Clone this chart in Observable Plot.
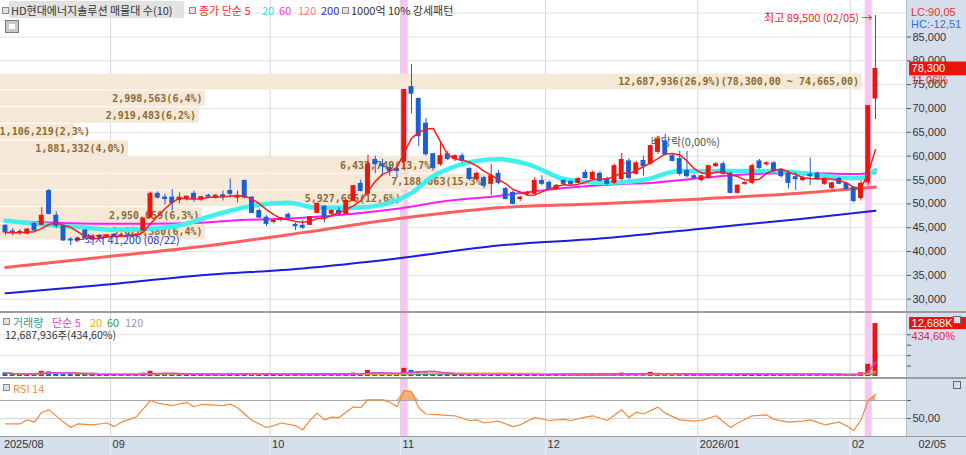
<!DOCTYPE html>
<html><head><meta charset="utf-8">
<script src="https://cdn.jsdelivr.net/npm/d3@7"></script>
<script src="https://cdn.jsdelivr.net/npm/@observablehq/plot@0.6"></script>
<style>
html,body{margin:0;padding:0;background:#fff;}
#wrap{position:relative;width:966px;height:455px;overflow:hidden;background:#fff;}
.a{position:absolute;white-space:nowrap;}
.k{font-family:"Noto Sans CJK KR","Noto Sans",sans-serif;font-size:11px;line-height:16px;}
.n{font-family:"Liberation Sans",sans-serif;font-size:11px;line-height:12px;}
.sq{position:absolute;width:5px;height:5px;border:1px solid #8a8a8a;background:#e2e2e2;}
svg{overflow:visible;max-width:none !important;}
</style></head>
<body><div id="wrap">
 <div class="a" style="left:906px;top:0;width:60px;height:437px;background:#d5dfeb;border-left:1px solid #b3bdca"></div>
 <div class="a" style="left:0;top:437px;width:966px;height:18px;background:#d5dfeb"></div>
 <div id="p1" class="a" style="left:0;top:0;width:966px;height:311px"></div>
 <div id="p2" class="a" style="left:0;top:313px;width:966px;height:64px"></div>
 <div id="p3" class="a" style="left:0;top:379px;width:966px;height:76px"></div>
 <div class="a" style="left:0;top:311px;width:966px;height:2px;background:#9c9c9c"></div>
 <div class="a" style="left:0;top:377px;width:966px;height:2px;background:#9c9c9c"></div>
 <div class="a" style="left:0;top:436px;width:966px;height:1px;background:#9c9c9c"></div>
</div>
<script>
// ---------- data ----------
const monthIdx   = [0, 15, 37, 55, 75, 96, 117];
const monthLabel = ["2025/08", "09", "10", "11", "12", "2026/01", "02"];
const lastDateLabel = "02/05";
const highDate = "02/05", lowDate = "08/22";
const signalIdx = [55, 119]; // 1000억 10% 강세패턴

const openP = [45400,44200,44100,43750,45800,45600,52700,47500,45200,42500,42300,44400,42700,43000,43100,
 43500,43200,43400,43300,44400,47100,52100,51300,51300,50800,51000,52100,50900,51700,51300,51800,52700,51300,54800,51300,48500,
 47100,46200,46600,47700,45600,45400,45600,48100,49400,47900,48500,47900,50600,54200,52100,59200,58300,57500,57300,
 58900,74500,72000,66800,60400,58300,60400,59400,60000,57300,55200,55400,54200,56300,53100,52300,51000,52100,52100,54800,
 54400,53100,54800,54600,54400,56500,55200,56300,55200,54400,55200,58900,56300,59000,58500,60900,63100,60000,59400,56900,55800,
 55000,55400,57900,58300,56300,52300,54200,54400,58900,58300,58500,56900,56300,55600,55000,56100,56300,54200,53300,55200,54200,
 53300,51200,54500,72100];
const highP = [45600,44800,44600,44800,46000,49200,53000,48300,45500,42900,43000,44600,43300,43500,43600,
 43700,43600,43800,43700,47000,52500,52500,52000,53000,52300,51600,52700,51500,52000,51900,52700,55200,52700,55000,51500,48900,
 47500,46500,47100,48100,46000,46500,47300,50200,49600,48700,49200,50800,53900,55000,60200,60000,59400,58500,57900,
 74000,79200,72200,67900,60600,63100,61000,60300,60600,57600,56700,55800,58300,57000,53500,52700,51600,52600,55500,55900,
 54800,54000,55100,54900,55500,57100,56900,56800,55600,58300,60600,59500,58900,60000,62300,64200,64600,60400,61000,61000,56200,
 56000,58100,58700,58800,56600,54000,54600,58300,59300,58800,58900,57300,56900,56500,55800,59600,56700,55400,54600,55500,54500,
 53600,54800,70500,89500];
const lowP = [43300,43300,43400,43500,44200,45400,47700,44800,42200,41200,42000,42600,42500,42800,42900,
 43000,42900,43000,43000,44000,46900,51000,49800,48500,50000,50600,50300,50500,51200,51000,50600,51200,50200,51000,47900,46900,
 45200,45800,46200,46500,44400,44600,45400,47900,46000,47500,47500,47700,50400,52500,51900,56300,55800,55800,55400,
 56900,68900,62000,60000,57300,57900,59100,58900,58500,54800,54900,53100,51700,54000,50800,49800,50500,51700,51800,53800,
 52900,52800,53900,53900,54100,55200,54900,54600,53900,54100,54800,55000,56000,55800,58100,60400,60000,58800,55800,55400,55200,
 54600,55200,57600,56000,52100,52000,53900,54000,57300,57900,56500,55400,53100,52800,54600,53800,55000,53900,53000,54000,52900,
 50200,50600,53800,67700];
const closeP = [44000,43900,43900,44600,44400,47500,47900,45400,42300,42300,42700,42700,43100,43300,43400,
 43200,43400,43300,43500,46900,52100,51300,51000,50200,51300,51500,51000,51400,51500,51700,51500,52100,51700,51300,48100,47100,
 45800,46400,47000,47100,45300,45000,47200,50000,47100,48500,47900,50600,53700,52700,58300,58300,57900,56900,56900,
 73900,73100,64200,60400,57500,60000,59400,60000,59000,55200,56300,53800,55800,54400,51000,50000,51300,52300,54800,54200,
 53100,53800,54200,54100,55200,55400,56500,54800,54200,57900,59200,55400,58500,57900,62100,63500,60400,59000,56300,55800,55400,
 55800,57900,58300,56300,52300,53800,54400,57900,57500,58500,56900,55800,54400,55200,55400,55800,55200,55100,54300,54200,53100,
 50600,54200,70500,78300];
const volume = [850000,600000,500000,550000,700000,1250000,1100000,800000,750000,600000,500000,550000,450000,400000,450000,
 400000,380000,420000,450000,800000,1250000,700000,550000,650000,500000,420000,480000,400000,380000,360000,450000,750000,500000,600000,650000,500000,
 550000,400000,380000,420000,500000,450000,520000,700000,600000,420000,400000,550000,800000,700000,1450000,950000,650000,500000,450000,
 1950000,1450000,1200000,900000,700000,750000,550000,450000,450000,600000,500000,500000,650000,450000,550000,550000,380000,350000,500000,400000,
 380000,330000,350000,300000,350000,380000,400000,350000,330000,550000,800000,550000,450000,500000,1000000,750000,600000,400000,500000,550000,350000,
 380000,500000,400000,420000,700000,450000,330000,700000,500000,380000,400000,380000,500000,420000,330000,700000,400000,380000,400000,350000,380000,
 500000,900000,2919450,12687936];

// moving averages (index, value)
const ma20Idx = [0,4,11,15,20,25,28,31,34,39,43,48,53,56,59,61,63,68,72,77,80,83,88,93,97,102,106,111,116,118,120];
const ma20Val = [46460,45830,45000,44580,44790,45830,47290,48540,49580,50210,49170,49170,50210,52290,55830,57290,58330,59380,58330,55210,54580,54380,55000,56880,56880,56880,56880,56250,55420,55420,57080];
const ma60Idx = [0,13,20,27,31,41,48,54,61,68,77,85,89,96,103,110,117,120];
const ma60Val = [46460,45830,45830,46040,46460,47080,47920,48960,50630,51670,53330,54170,54380,55420,56250,56460,56250,56460];
const ma120Idx = [0,13,27,41,54,61,68,82,96,110,120];
const ma120Val = [36670,38750,41040,43960,46880,48130,49170,50000,51040,52290,53540];
const ma200Idx = [0,13,27,41,54,68,82,96,110,120];
const ma200Val = [31250,32920,35000,36460,38540,41250,42710,44790,46880,48540];

// 매물대 (volume profile), top to bottom
const bandVol  = [12687936,2998563,2919483,1106219,1881332,6432749,7188063,5927696,2950059,3026380];
const bandPct  = [26.9,6.4,6.2,2.3,4.0,13.7,15.3,12.6,6.3,6.4];
const bandHigh = [77300,73800,70300,66800,63300,59800,56300,52800,49300,45800];
const bandLow  = [73800,70300,66800,63300,59800,56300,52800,49300,45800,42300];
const bandExtra = ["(78,300,00 ~ 74,665,00)","","","","","","","","",""];

// RSI 14
const rsiIdx = [0,2,3,4,5,6,8,9,10,12,14,15,16,18,19,20,21,23,25,26,27,30,31,32,34,36,37,38,40,41,42,43,44,45,46,48,49,50,52,53,54,55,56,57,58,60,62,64,65,66,68,70,71,73,75,77,78,80,81,83,85,86,87,88,90,91,93,95,96,98,100,101,103,105,106,108,110,111,113,115,116,117,118,119,120];
const rsiVal = [44,44,48.5,46,57,59.6,46,40,44,43,45,41,46,51.5,60.7,70,67,64.4,68,63,65.6,64.4,66,61.9,47.8,40,42,45,42,37.4,47.8,56,48.5,51.5,51,63,62,70.7,70.7,68,63,81,80,62,55,54,53,47.8,48.5,45,47,41,43,51,47.8,49,47.8,51.5,53,47.8,59.6,51,57,55,62.6,56,48.5,47,47.8,53,40,45,53,54,49,46,47,48.5,43,46,42,36.7,48.5,70,76.7];

const exDivText = "배당락(0,00%)", exDivIdx = 89, exDivPrice = 62900;
const priceTicks = [30000,35000,40000,45000,50000,55000,60000,65000,70000,75000,80000,85000];
const priceGrid  = [30000,35000,40000,45000,50000,55000,60000,65000,70000,75000,80000,85000,90000];

// ---------- helpers ----------
const fmt = d3.format(",");
const dec = (v, n) => v.toFixed(n).replace(".", ",");
const UP = "#e8170e", DN = "#1b5fd2";
const xMin = -0.69, xMax = 124.28;
const W = 966, MR = 60;
const sty = {fontFamily: "Liberation Sans, sans-serif", fontSize: "11px", color: "#333", background: "transparent", overflow: "visible"};
const KR = "Noto Sans CJK KR, sans-serif";
const MONO = "DejaVu Sans Mono, monospace";

const candles = openP.map((o, i) => ({i, o, h: highP[i], l: lowP[i], c: closeP[i]}));
const col = d => d.c >= d.o ? UP : DN;
const pts = (I, V) => I.map((i, j) => ({i, v: V[j]}));
const bands = bandVol.map((v, j) => ({v, pct: bandPct[j], hi: bandHigh[j], lo: bandLow[j], extra: bandExtra[j]}));
const maxPct = d3.max(bandPct), span = xMax - xMin;
const bandX2 = d => xMin + d.pct / maxPct * 0.951 * span;
const labelX = d => Math.max(bandX2(d), xMin + 0.102 * span);
const last = candles[candles.length - 1], prev = candles[candles.length - 2];
const hiI = d3.maxIndex(highP), loI = d3.minIndex(lowP);
const monthGrid = monthIdx.slice(1);

// ---------- price pane ----------
const price = Plot.plot({
  width: W, height: 311, marginLeft: 0, marginRight: MR, marginTop: 0, marginBottom: 0, style: sty,
  x: {domain: [xMin, xMax], axis: null},
  y: {domain: [27417, 92657], axis: null, label: null},
  marks: [
    Plot.ruleY(priceGrid, {stroke: "#e2e2e2"}),
    Plot.ruleX(monthGrid, {x: d => d - 0.5, stroke: "#d6d6d6"}),
    Plot.ruleX(signalIdx, {x: d => d, stroke: "#f8c6f5", strokeWidth: 7}),
    Plot.rect(bands, {x1: xMin, x2: bandX2, y1: "lo", y2: "hi", fill: "#f5e8d7", insetTop: 0.5, insetBottom: 0.5}),
    Plot.text(bands, {x: labelX, y: d => (d.hi + d.lo) / 2, text: d => `${fmt(d.v)}(${dec(d.pct, 1)}%)${d.extra}`,
      textAnchor: "end", dx: -3, fill: "#8a6a33", fontFamily: MONO, fontWeight: "bold", fontSize: 10}),
    Plot.text([0], {x: exDivIdx, y: exDivPrice, text: () => exDivText, textAnchor: "start", fill: "#555", fontFamily: KR, fontSize: 11}),
    Plot.line(pts(ma200Idx, ma200Val), {x: "i", y: "v", stroke: "#1c1ce0", strokeWidth: 2, curve: "monotone-x"}),
    Plot.line(pts(ma120Idx, ma120Val), {x: "i", y: "v", stroke: "#ff5e5e", strokeWidth: 3, curve: "monotone-x"}),
    Plot.line(pts(ma60Idx, ma60Val), {x: "i", y: "v", stroke: "#ff1aff", strokeWidth: 2, curve: "monotone-x"}),
    Plot.line(pts(ma20Idx, ma20Val), {x: "i", y: "v", stroke: "#3ef0f0", strokeWidth: 4.5, curve: "monotone-x"}),
    Plot.ruleX(candles, {x: "i", y1: "l", y2: "h", stroke: col, strokeWidth: 1}),
    Plot.rect(candles, {x1: d => d.i - 0.34, x2: d => d.i + 0.34, y1: "o", y2: "c", fill: col, insetTop: -0.5, insetBottom: -0.5}),
    Plot.lineY(candles, Plot.windowY({k: 5, anchor: "end"}, {x: "i", y: "c", stroke: "#ff1a1a", strokeWidth: 1.5})),
    Plot.text([0], {x: hiI, y: highP[hiI], text: () => `최고 ${fmt(highP[hiI])} (${highDate}) →`, textAnchor: "end", dx: -3, dy: 3, fill: "#ee2222", fontFamily: KR, fontSize: 11}),
    Plot.text([0], {x: loI, y: lowP[loI], text: () => `←최저 ${fmt(lowP[loI])} (${lowDate})`, textAnchor: "start", dx: 3, dy: -5, fill: "#2233dd", fontFamily: KR, fontSize: 11}),
    Plot.axisY({anchor: "right", ticks: priceTicks, tickSize: 4, tickPadding: 2, tickFormat: fmt, label: null, fontSize: 11, stroke: "#555"}),
    Plot.rect([last], {x1: 124.7, x2: 133, y1: d => d.c - 1450, y2: d => d.c + 1450, fill: "#e8150c"}),
    Plot.text([last], {x: 124.7, y: "c", text: d => fmt(d.c), textAnchor: "start", dx: 2, fill: "#fff", fontSize: 11}),
    Plot.text([last], {x: 124.7, y: "c", text: d => dec((d.c / prev.c - 1) * 100, 2) + "%", textAnchor: "start", dx: 2, dy: 12, fill: "#ee2222", fontSize: 11})
  ]
});
document.getElementById("p1").appendChild(price);

// ---------- volume pane ----------
const vols = volume.map((v, i) => ({i, v, up: closeP[i] >= openP[i]}));
const lastV = vols[vols.length - 1], prevV = vols[vols.length - 2];
const vol = Plot.plot({
  width: W, height: 64, marginLeft: 0, marginRight: MR, marginTop: 0, marginBottom: 1, style: sty,
  x: {domain: [xMin, xMax], axis: null},
  y: {domain: [0, 15.1e6], axis: null, label: null},
  marks: [
    Plot.ruleY([5e6, 10e6], {stroke: "#e2e2e2"}),
    Plot.ruleX(monthGrid, {x: d => d - 0.5, stroke: "#d6d6d6"}),
    Plot.ruleX(signalIdx, {x: d => d, stroke: "#f8c6f5", strokeWidth: 7}),
    Plot.rect(vols, {x1: d => d.i - 0.34, x2: d => d.i + 0.34, y1: 0, y2: "v", fill: d => d.up ? UP : DN}),
    Plot.lineY(vols, Plot.windowY({k: 120, anchor: "end"}, {x: "i", y: "v", stroke: "#a8a8a8", strokeWidth: 1.5})),
    Plot.lineY(vols, Plot.windowY({k: 60, anchor: "end"}, {x: "i", y: "v", stroke: "#3a9a3a", strokeWidth: 1.5})),
    Plot.lineY(vols, Plot.windowY({k: 20, anchor: "end"}, {x: "i", y: "v", stroke: "#f0a830", strokeWidth: 1.5})),
    Plot.lineY(vols, Plot.windowY({k: 5, anchor: "end"}, {x: "i", y: "v", stroke: "#e040e0", strokeWidth: 1.5})),
    Plot.axisY({anchor: "right", ticks: [2.5e6, 5e6, 7.5e6, 10e6], tickSize: 4, tickFormat: () => "", label: null, stroke: "#555"}),
    Plot.rect([lastV], {x1: 124.7, x2: 133, y1: d => d.v - 1.45e6, y2: d => d.v + 1.45e6, fill: "#e8150c"}),
    Plot.text([lastV], {x: 124.7, y: "v", text: d => fmt(Math.round(d.v / 1000)) + "K", textAnchor: "start", dx: 2, fill: "#fff", fontSize: 11}),
    Plot.text([lastV], {x: 124.7, y: "v", text: d => dec(d.v / prevV.v * 100, 2) + "%", textAnchor: "start", dx: 2, dy: 13, fill: "#ee2222", fontSize: 11})
  ]
});
document.getElementById("p2").appendChild(vol);

// ---------- RSI pane + date axis ----------
const rsi = pts(rsiIdx, rsiVal);
const rsiPlot = Plot.plot({
  width: W, height: 76, marginLeft: 0, marginRight: MR, marginTop: 0, marginBottom: 18, style: sty,
  x: {domain: [xMin, xMax], axis: null},
  y: {domain: [28.89, 93.33], axis: null, label: null},
  marks: [
    Plot.ruleX(monthGrid, {x: d => d - 0.5, stroke: "#d6d6d6"}),
    Plot.ruleX(monthGrid, {x: d => d - 0.5, y1: 28.89, y2: 8.89, stroke: "#eef2f7"}),
    Plot.ruleX(signalIdx, {x: d => d, stroke: "#f8c6f5", strokeWidth: 7}),
    Plot.ruleY([50], {stroke: "#d9d9d9"}),
    Plot.ruleY([70], {stroke: "#a6a6a6"}),
    Plot.areaY(rsi, {x: "i", y1: 70, y2: d => Math.max(70, d.v), fill: "#f6ae7a"}),
    Plot.line(rsi, {x: "i", y: "v", stroke: "#f28a3c", strokeWidth: 1.2}),
    Plot.axisY({anchor: "right", ticks: [50, 70], tickSize: 4, tickPadding: 2, tickFormat: d => d === 50 ? dec(d, 2) : "", label: null, fontSize: 11, stroke: "#555"}),
    Plot.text(monthIdx, {x: d => d - 0.5, frameAnchor: "bottom", dy: 10, dx: 2, text: (d, j) => monthLabel[j], textAnchor: "start", fill: "#333", fontSize: 11}),
    Plot.text([0], {x: xMax, frameAnchor: "bottom", dy: 10, dx: 12, text: () => lastDateLabel, textAnchor: "start", fill: "#333", fontSize: 11})
  ]
});
document.getElementById("p3").appendChild(rsiPlot);

// ---------- legends / overlays ----------
const wrap = document.getElementById("wrap");
function put(html, left, top, css) {
  const d = document.createElement("div");
  d.className = "a";
  d.style.cssText += `left:${left}px;top:${top}px;` + (css || "");
  d.innerHTML = html;
  wrap.appendChild(d);
  return d;
}
function sq(left, top) { const d = put("", left, top); d.className = "sq"; d.style.left = left + "px"; d.style.top = top + "px"; }

// price legend
sq(2, 7);
put(`<span class="k" style="color:#333;padding-left:2px">HD현대에너지솔루션 매물대 수(10)</span>`, 9, 1, "width:175px;height:17px;background:#e2e2e2;line-height:17px;");
sq(189, 7);
put(`<span class="k" style="color:#ff2a2a">종가 단순 5</span>`, 199, 1);
put(`<span class="k" style="color:#2ee6ee">20</span>`, 262, 1);
put(`<span class="k" style="color:#ff33ff">60</span>`, 279, 1);
put(`<span class="k" style="color:#ff7a7a">120</span>`, 298, 1);
put(`<span class="k" style="color:#2b2be0">200</span>`, 321, 1);
sq(342, 7);
put(`<span class="k" style="color:#333">1000억 10% 강세패턴</span>`, 351, 1);
put("", 5, 20, "width:12px;height:11px;border:1px solid #7a7a7a;background:linear-gradient(#fff,#fff) 3px 3px/6px 5px no-repeat,#c8c8c8;");
put(`<span class="n" style="color:#e83030">LC:${dec((last.c / lowP[loI] - 1) * 100, 2)}</span>`, 911, 2);
put(`<span class="n" style="color:#2f6fe0">HC:${dec((last.c / highP[hiI] - 1) * 100, 2)}</span>`, 911, 14);

// volume legend
sq(3, 318);
put(`<span class="k" style="color:#2a9d9d">거래량</span>`, 13, 313);
put(`<span class="k" style="color:#e040e0">단순 5</span>`, 52, 313);
put(`<span class="k" style="color:#f0a830">20</span>`, 90, 313);
put(`<span class="k" style="color:#3a9a3a">60</span>`, 107, 313);
put(`<span class="k" style="color:#999">120</span>`, 125, 313);
put(`<span class="k" style="color:#333;font-size:10.5px">${fmt(lastV.v)}주(${dec(lastV.v / prevV.v * 100, 2)}%)</span>`, 5, 325);
put("", 953, 316, "width:6px;height:6px;border:1px solid #666;background:#ddd;");

// RSI legend
sq(3, 384);
put(`<span class="k" style="color:#f28a3c">RSI 14</span>`, 13, 379);
put("", 953, 381, "width:6px;height:6px;border:1px solid #666;background:#ddd;");
</script>
</body></html>
